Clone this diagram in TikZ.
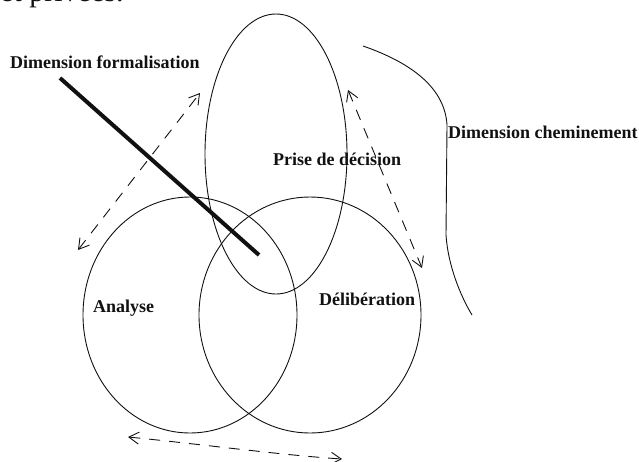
\documentclass[tikz,border=0pt]{standalone}
\usepackage{fontspec}
\setmainfont{Liberation Serif}
\usepackage{xcolor}
\usepackage{tikz}
\usetikzlibrary{shapes.geometric, arrows.meta}
\definecolor{ink}{HTML}{111111}
\tikzset{
  ring/.style     = {draw=ink, line width=0.9pt, ellipse, inner sep=0pt},
  dimlabel/.style = {font=\fontsize{18}{20}\selectfont\bfseries, text=ink,
                     inner sep=0pt, anchor=base west},
  bodytext/.style = {font=\fontsize{30}{34}\selectfont, text=ink,
                     inner sep=0pt, anchor=base west},
  axisline/.style = {draw=ink, line width=4pt},
  trail/.style    = {draw=ink, line width=0.9pt},
  loopflow/.style = {{Straight Barb[length=10pt,width=12pt]}-{Straight Barb[length=10pt,width=12pt]},
                     draw=ink, line width=0.9pt, dash pattern=on 11pt off 9pt},
}

\begin{document}
\begin{tikzpicture}[x=1pt, y=-1pt]
  \useasboundingbox (0,0) rectangle (639,461);

  % the three spheres
  \node[ring, minimum width=142pt, minimum height=280pt] (decision) at (276,154) {};
  \node[ring, minimum width=214pt, minimum height=236pt] (analyse) at (190,315) {};
  \node[ring, minimum width=222pt, minimum height=236pt] (deliberation) at (310,315) {};

  \node[dimlabel] (decisiontxt) at (273,165) {Prise de décision};
  \node[dimlabel] (analysetxt) at (93,312) {Analyse};
  \node[dimlabel] (delibtxt) at (319,305) {Délibération};

  % text above, cut by the page
  \node[bodytext] (privees) at (0,1.5) {et privées.};

  % formalisation axis
  \node[dimlabel] (formal) at (10,68) {Dimension formalisation};
  \coordinate (formalA) at (60,78);
  \coordinate (formalB) at (259,255);
  \draw[axisline] (formalA) -- (formalB);

  % cheminement
  \node[dimlabel] (chemin) at (448,138) {Dimension cheminement};
  \coordinate (cheminA) at (363,46);
  \coordinate (cheminB) at (472,315);
  \draw[trail] (cheminA) .. controls (415,64) and (445,90) .. (447,125)
    -- (446,235) .. controls (448,265) and (460,295) .. (cheminB);

  % dashed cycles
  \coordinate (leftA) at (78,250);
  \coordinate (leftB) at (200,93);
  \draw[loopflow] (leftA) -- (leftB);
  \coordinate (rightA) at (348,90);
  \coordinate (rightB) at (422,268);
  \draw[loopflow] (rightA) -- (rightB);
  \coordinate (lowA) at (128,437);
  \coordinate (lowB) at (342,459);
  \draw[loopflow] (lowA) .. controls (200,444) and (280,455) .. (lowB);
\end{tikzpicture}
\end{document}
